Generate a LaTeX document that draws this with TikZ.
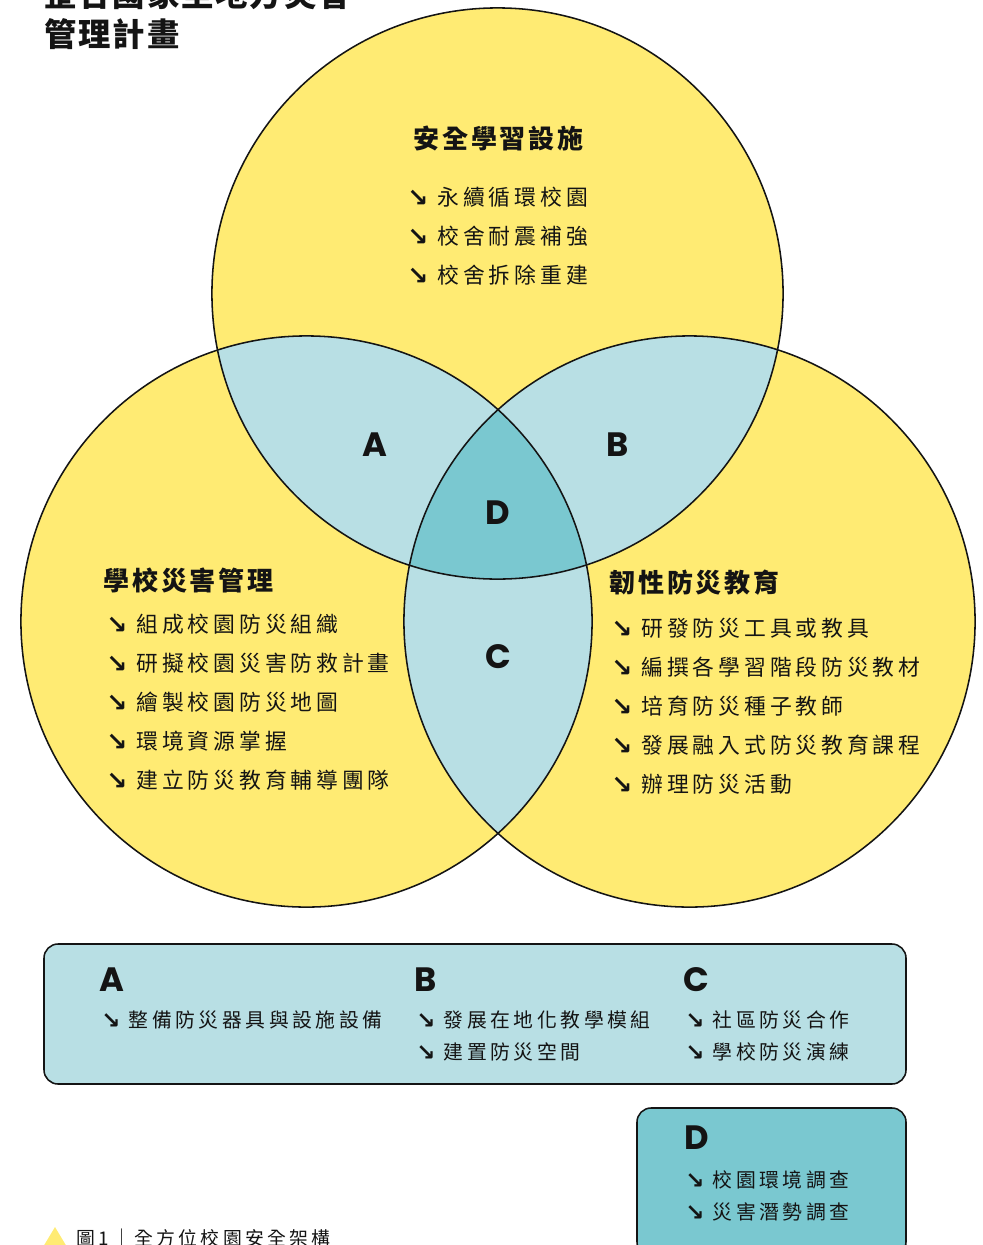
\documentclass[tikz,border=0pt]{standalone}
\usepackage{fontspec}
\newfontfamily\cjk[LetterSpace=18]{Noto Sans CJK TC}
\newfontfamily\cjkh[LetterSpace=11]{Noto Sans CJK TC}
\newfontfamily\cjkt[LetterSpace=6]{Noto Sans CJK TC}
\newfontfamily\latf{Poppins}
\newfontfamily\arrf{DejaVu Sans}
\definecolor{sunny}{RGB}{255,235,115}
\definecolor{pale}{RGB}{184,223,228}
\definecolor{deep}{RGB}{122,200,208}
\definecolor{ink}{RGB}{20,20,20}
\newcommand{\arw}{\raisebox{-0.06em}{\scalebox{1.15}{\arrf\bfseries ↘}}\hskip 0.42em}
\begin{document}
\begin{tikzpicture}[x=0.025cm, y=-0.025cm,
    ring/.style={draw=ink, line width=1.1pt},
    letter/.style={inner sep=0pt, text=ink, font=\latf\bfseries\fontsize{24}{24}\selectfont},
    head/.style={inner sep=0pt, anchor=west, text=ink, font=\cjkh\bfseries\fontsize{18.5}{20}\selectfont},
    item/.style={inner sep=0pt, anchor=west, text=ink, font=\cjk\fontsize{15.5}{18}\selectfont},
    small/.style={inner sep=0pt, anchor=west, text=ink, font=\cjk\fontsize{14.1}{16}\selectfont},
    panel/.style={draw=ink, line width=1.1pt, rounded corners=10pt}]
\useasboundingbox (0,0) rectangle (982,1245);
\def\rad{7.1375cm}
\coordinate (topc) at (497.5,293.5);
\coordinate (leftc) at (306.5,621.5);
\coordinate (rightc) at (689.5,621.5);
\fill[sunny] (topc) circle[radius=\rad];
\fill[sunny] (leftc) circle[radius=\rad];
\fill[sunny] (rightc) circle[radius=\rad];
\begin{scope}
  \clip (topc) circle[radius=\rad];
  \fill[pale] (leftc) circle[radius=\rad];
  \fill[pale] (rightc) circle[radius=\rad];
\end{scope}
\begin{scope}
  \clip (leftc) circle[radius=\rad];
  \fill[pale] (rightc) circle[radius=\rad];
\end{scope}
\begin{scope}
  \clip (topc) circle[radius=\rad];
  \clip (leftc) circle[radius=\rad];
  \fill[deep] (rightc) circle[radius=\rad];
\end{scope}
\draw[ring] (topc) circle[radius=\rad];
\draw[ring] (leftc) circle[radius=\rad];
\draw[ring] (rightc) circle[radius=\rad];
% title
\node[inner sep=0pt, anchor=west, text=ink, font=\cjkt\bfseries\fontsize{23}{24}\selectfont] (title1) at (44,-6) {整合國家至地方災害};
\node[inner sep=0pt, anchor=west, text=ink, font=\cjkt\bfseries\fontsize{23}{24}\selectfont] (title2) at (44,34) {管理計畫};
% circle letters
\node[letter] (lblA) at (375,445) {A};
\node[letter] (lblB) at (618,445) {B};
\node[letter] (lblD) at (498,513) {D};
\node[letter] (lblC) at (498,657) {C};
% top circle
\node[head] (topHead) at (413,138) {安全學習設施};
\foreach \txt [count=\i] in {永續循環校園,校舍耐震補強,校舍拆除重建}
  \node[item] (top\i) at (407,158+39*\i) {\arw\txt};
% left circle
\node[head] (leftHead) at (103,580) {學校災害管理};
\foreach \txt [count=\i] in {組成校園防災組織,研擬校園災害防救計畫,繪製校園防災地圖,環境資源掌握,建立防災教育輔導團隊}
  \node[item] (left\i) at (106,585+39*\i) {\arw\txt};
% right circle
\node[head] (rightHead) at (609,583) {韌性防災教育};
\foreach \txt [count=\i] in {研發防災工具或教具,編撰各學習階段防災教材,培育防災種子教師,發展融入式防災教育課程,辦理防災活動}
  \node[item] (right\i) at (611,589+39*\i) {\arw\txt};
% panels
\draw[panel, fill=pale] (44,944) rectangle (906,1084);
\node[letter, anchor=west] (boxA) at (99,980) {A};
\node[letter, anchor=west] (boxB) at (414,980) {B};
\node[letter, anchor=west] (boxC) at (683,980) {C};
\node[small] (a1) at (101,1020) {\arw 整備防災器具與設施設備};
\node[small] (b1) at (416,1020) {\arw 發展在地化教學模組};
\node[small] (b2) at (416,1052) {\arw 建置防災空間};
\node[small] (c1) at (685,1020) {\arw 社區防災合作};
\node[small] (c2) at (685,1052) {\arw 學校防災演練};
\draw[panel, fill=deep] (637,1108) rectangle (906,1256);
\node[letter, anchor=west] (boxD) at (684,1138) {D};
\node[small] (d1) at (685,1180) {\arw 校園環境調查};
\node[small] (d2) at (685,1212) {\arw 災害潛勢調查};
% caption
\fill[sunny] (43,1247) -- (55,1227) -- (67,1247) -- cycle;
\node[inner sep=0pt, anchor=west, text=ink, font=\cjk\fontsize{13.4}{14}\selectfont] (caption) at (76,1238) {圖1\,｜\,全方位校園安全架構};
\end{tikzpicture}
\end{document}
